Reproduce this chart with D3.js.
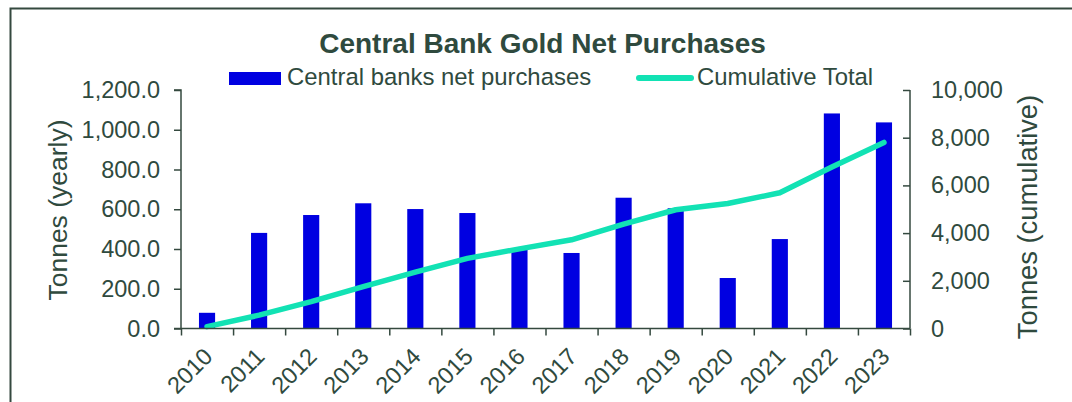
<!DOCTYPE html>
<html>
<head>
<meta charset="utf-8">
<script src="https://cdn.jsdelivr.net/npm/d3@7"></script>
<style>
  html, body { margin: 0; padding: 0; background: #fff; }
  svg { display: block; font-family: "Liberation Sans", Arial, sans-serif; }
</style>
</head>
<body>
<svg id="chart" width="1072" height="402"></svg>
<script>
const years = ["2010","2011","2012","2013","2014","2015","2016","2017","2018","2019","2020","2021","2022","2023"];
const netPurchases = [79, 481, 571, 630, 601, 581, 396, 380, 658, 605, 254, 450, 1082, 1037];
const cumulativeTotal = [79, 560, 1130, 1760, 2360, 2940, 3340, 3720, 4380, 4980, 5240, 5690, 6770, 7800];
const leftTicks = [0, 200, 400, 600, 800, 1000, 1200];
const rightTicks = [0, 2000, 4000, 6000, 8000, 10000];

(function () {
const textColor = "#2f4a3e";
const axisColor = "#34493f";
const barColor = "#0000e1";
const lineColor = "#12e2b4";

const svg = d3.select("#chart");

// outer frame
svg.append("rect")
  .attr("x", 10.5).attr("y", 8.5)
  .attr("width", 1100).attr("height", 450)
  .attr("fill", "none").attr("stroke", axisColor).attr("stroke-width", 2);

const pLeft = 181, pRight = 910, pTop = 90, pBottom = 328.5;

const x = d3.scaleBand().domain(years).range([pLeft, pRight])
  .paddingInner(0.69).paddingOuter(0.345);
const yL = d3.scaleLinear().domain([0, 1200]).range([pBottom, pTop]);
const yR = d3.scaleLinear().domain([0, 10000]).range([pBottom, pTop]);
const step = x.step();

// bars
svg.append("g").selectAll("rect").data(netPurchases).join("rect")
  .attr("x", (d, i) => x(years[i]))
  .attr("y", d => yL(d))
  .attr("width", x.bandwidth())
  .attr("height", d => pBottom - yL(d))
  .attr("fill", barColor);

// cumulative line
const line = d3.line()
  .x((d, i) => x(years[i]) + x.bandwidth() / 2)
  .y(d => yR(d));
svg.append("path").datum(cumulativeTotal)
  .attr("d", line)
  .attr("fill", "none").attr("stroke", lineColor)
  .attr("stroke-width", 5.5).attr("stroke-linecap", "round").attr("stroke-linejoin", "round");

// left axis
const gL = svg.append("g").attr("transform", `translate(${pLeft},0)`)
  .call(d3.axisLeft(yL).tickValues(leftTicks).tickSize(7).tickPadding(14)
    .tickFormat(d => d3.format(",.1f")(d)));
// right axis (ticks inward)
const gR = svg.append("g").attr("transform", `translate(${pRight},0)`)
  .call(d3.axisRight(yR).tickValues(rightTicks).tickSize(-7).tickPadding(21)
    .tickFormat(d3.format(",")));
// x axis with boundary ticks
const boundaries = d3.range(years.length + 1).map(i => pLeft + i * step);
const xb = d3.scaleLinear().domain([pLeft, pRight]).range([pLeft, pRight]);
const gX = svg.append("g").attr("transform", `translate(0,${pBottom})`)
  .call(d3.axisBottom(xb).tickValues(boundaries).tickSize(7).tickFormat(""));

[gL, gR, gX].forEach(g => {
  g.select(".domain").attr("stroke", axisColor).attr("stroke-width", 1.5);
  g.selectAll(".tick line").attr("stroke", axisColor).attr("stroke-width", 1.5);
  g.selectAll("text").attr("fill", textColor).attr("font-size", 23.5)
    .attr("font-family", "Liberation Sans, Arial, sans-serif");
});
gL.select(".domain").attr("d", `M-7,${pTop}H0V${pBottom}H-7`);
gR.select(".domain").attr("d", `M0,${pTop}V${pBottom}`);
gX.select(".domain").attr("d", `M${pLeft},0H${pRight}`);

// x labels
svg.append("g").selectAll("text").data(years).join("text")
  .attr("transform", d => `translate(${x(d) + x.bandwidth() / 2 + 7},${358}) rotate(-45)`)
  .attr("text-anchor", "end")
  .attr("fill", textColor).attr("font-size", 23.5)
  .text(d => d);

// axis titles
svg.append("text")
  .attr("transform", "translate(67,210) rotate(-90)")
  .attr("text-anchor", "middle").attr("fill", textColor).attr("font-size", 26.5)
  .text("Tonnes (yearly)");
svg.append("text")
  .attr("transform", "translate(1037,217) rotate(-90)")
  .attr("text-anchor", "middle").attr("fill", textColor).attr("font-size", 27.3)
  .text("Tonnes (cumulative)");

// title
svg.append("text")
  .attr("x", 542.5).attr("y", 53)
  .attr("text-anchor", "middle").attr("fill", textColor)
  .attr("font-size", 28).attr("font-weight", "bold")
  .text("Central Bank Gold Net Purchases");

// legend
const lg = svg.append("g");
lg.append("rect").attr("x", 229).attr("y", 72).attr("width", 52).attr("height", 13).attr("fill", barColor);
lg.append("text").attr("x", 287).attr("y", 85).attr("fill", textColor).attr("font-size", 23.9)
  .text("Central banks net purchases");
lg.append("line").attr("x1", 639).attr("x2", 691).attr("y1", 78).attr("y2", 78)
  .attr("stroke", lineColor).attr("stroke-width", 6).attr("stroke-linecap", "round");
lg.append("text").attr("x", 697).attr("y", 85).attr("fill", textColor).attr("font-size", 23.9)
  .text("Cumulative Total");
})();
</script>
</body>
</html>
